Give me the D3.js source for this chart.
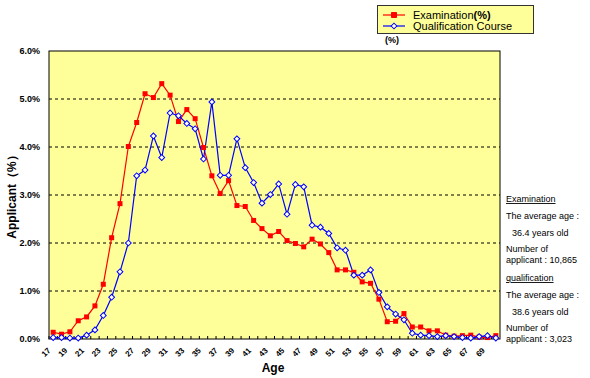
<!DOCTYPE html>
<html>
<head>
<meta charset="utf-8">
<script src="https://cdn.jsdelivr.net/npm/d3@7"></script>
<style>
  body { margin: 0; background: #fff; }
  svg { display: block; font-family: "Liberation Sans", Arial, sans-serif; }
</style>
</head>
<body>
<svg id="chart" width="590" height="378"></svg>
<script>
/********************** DATA *************************/
// ages 17 .. 70, one category each
const ages = d3.range(17, 71);
// share of applicants per age (%)
const examination = [
  0.14, 0.10, 0.15, 0.38, 0.46, 0.69, 1.14, 2.11, 2.82, 4.01,
  4.51, 5.11, 5.03, 5.32, 5.08, 4.53, 4.78, 4.59, 3.99, 3.40,
  3.03, 3.30, 2.78, 2.76, 2.47, 2.30, 2.15, 2.24, 2.05, 1.99,
  1.92, 2.08, 1.98, 1.80, 1.44, 1.44, 1.39, 1.19, 1.16, 0.83,
  0.36, 0.37, 0.53, 0.25, 0.25, 0.17, 0.17, 0.08, 0.06, 0.07,
  0.08, 0.04, 0.03, 0.07
];
const qualification = [
  0.03, 0.03, 0.02, 0.02, 0.08, 0.19, 0.49, 0.87, 1.40, 2.00,
  3.40, 3.52, 4.23, 3.78, 4.71, 4.65, 4.49, 4.38, 3.75, 4.94,
  3.41, 3.41, 4.17, 3.57, 3.26, 2.83, 3.01, 3.23, 2.60, 3.22,
  3.17, 2.37, 2.33, 2.20, 1.90, 1.85, 1.33, 1.33, 1.44, 0.97,
  0.67, 0.52, 0.40, 0.12, 0.08, 0.07, 0.05, 0.07, 0.05, 0.03,
  0.02, 0.05, 0.07, 0.02
];
const yTicks = [0, 1, 2, 3, 4, 5, 6];
const xLabels = ages.filter(a => a % 2 === 1); // every other age is labelled
const seriesNames = ["Examination", "Qualification Course"];
const notes = [
  { text: "Examination", underline: true, dx: 0, y: 202 },
  { text: "The average age :", dx: 0, y: 219 },
  { text: "36.4 years old", dx: 6, y: 236 },
  { text: "Number of", dx: 0, y: 252 },
  { text: "applicant : 10,865", dx: 0, y: 263 },
  { text: "qualification", underline: true, dx: 0, y: 281 },
  { text: "The average age :", dx: 0, y: 298 },
  { text: "38.6 years old", dx: 6, y: 315 },
  { text: "Number of", dx: 0, y: 331 },
  { text: "applicant  : 3,023", dx: 0, y: 342 }
];

/********************** LAYOUT *************************/
const svg = d3.select("#chart");
const margin = { top: 51, right: 90, bottom: 39, left: 49 };
const plotW = 590 - margin.left - margin.right;   // 451
const plotH = 378 - margin.top - margin.bottom;   // 288

const x = d3.scaleBand().domain(ages).range([margin.left, margin.left + plotW]);
const y = d3.scaleLinear().domain([0, 6]).range([margin.top + plotH, margin.top]);
const cx = a => x(a) + x.bandwidth() / 2;

// plot background
svg.append("rect")
  .attr("x", margin.left).attr("y", margin.top)
  .attr("width", plotW).attr("height", plotH)
  .attr("fill", "#ffff99");

// dashed gridlines
svg.append("g").selectAll("line")
  .data(yTicks.filter(d => d > 0 && d < 6))
  .join("line")
  .attr("x1", margin.left).attr("x2", margin.left + plotW)
  .attr("y1", d => y(d)).attr("y2", d => y(d))
  .attr("stroke", "#000").attr("stroke-width", 1)
  .attr("stroke-dasharray", "3,3");

// plot border
svg.append("rect")
  .attr("x", margin.left).attr("y", margin.top)
  .attr("width", plotW).attr("height", plotH)
  .attr("fill", "none").attr("stroke", "#000").attr("stroke-width", 1);

/********************** AXES *************************/
const yAxis = svg.append("g")
  .attr("transform", `translate(${margin.left},0)`)
  .call(d3.axisLeft(y).tickValues(yTicks).tickSize(0).tickPadding(9)
    .tickFormat(d => d.toFixed(1) + "%"));
yAxis.select(".domain").remove();
yAxis.selectAll("text")
  .attr("font-size", 9).attr("font-weight", "bold").attr("fill", "#000");

// category boundary ticks pointing into the plot
svg.append("g").selectAll("line")
  .data(ages)
  .join("line")
  .attr("x1", d => x(d)).attr("x2", d => x(d))
  .attr("y1", margin.top + plotH).attr("y2", margin.top + plotH - 3)
  .attr("stroke", "#000");

const xAxis = svg.append("g")
  .attr("transform", `translate(0,${margin.top + plotH})`)
  .call(d3.axisBottom(x).tickValues(xLabels).tickSize(0));
xAxis.select(".domain").remove();
xAxis.selectAll("text")
  .attr("font-size", 8).attr("font-weight", "bold").attr("fill", "#000")
  .attr("text-anchor", "end")
  .attr("y", 0).attr("dy", "0.35em")
  .attr("transform", "translate(-4,10) rotate(-45)");

// axis titles
svg.append("text")
  .attr("x", 273).attr("y", 372)
  .attr("text-anchor", "middle")
  .attr("font-size", 12).attr("font-weight", "bold")
  .text("Age");

svg.append("text")
  .attr("transform", "translate(16,194) rotate(-90)")
  .attr("text-anchor", "middle")
  .attr("font-size", 12).attr("font-weight", "bold")
  .text("Applicant（%）");

/********************** SERIES *************************/
const line = d3.line().x(d => cx(d.age)).y(d => y(d.v));
const examData = ages.map((a, i) => ({ age: a, v: examination[i] }));
const qualData = ages.map((a, i) => ({ age: a, v: qualification[i] }));

svg.append("path").datum(examData)
  .attr("d", line).attr("fill", "none")
  .attr("stroke", "#ff0000").attr("stroke-width", 1.2);
svg.append("path").datum(qualData)
  .attr("d", line).attr("fill", "none")
  .attr("stroke", "#0000ff").attr("stroke-width", 1.2);

const square = d3.symbol().type(d3.symbolSquare).size(25);
// square turned 45 degrees gives an even diamond like the original
const diamond = d3.symbol().type(d3.symbolSquare).size(17);

svg.append("g").selectAll("path")
  .data(examData)
  .join("path")
  .attr("d", square)
  .attr("transform", d => `translate(${cx(d.age)},${y(d.v)})`)
  .attr("fill", "#ff0000");

svg.append("g").selectAll("path")
  .data(qualData)
  .join("path")
  .attr("d", diamond)
  .attr("transform", d => `translate(${cx(d.age)},${y(d.v)}) rotate(45)`)
  .attr("fill", "#fff").attr("stroke", "#0000ff").attr("stroke-width", 1);

/********************** LEGEND *************************/
const legend = svg.append("g");
legend.append("rect")
  .attr("x", 377.5).attr("y", 5.5).attr("width", 156).attr("height", 28)
  .attr("fill", "#ffff99").attr("stroke", "#333").attr("stroke-width", 1);

const legendRows = [
  { name: seriesNames[0], color: "#ff0000", sym: square, fill: "#ff0000", rot: 0, y: 15 },
  { name: seriesNames[1], color: "#0000ff", sym: diamond, fill: "#fff", rot: 45, y: 26 }
];
legendRows.forEach(r => {
  legend.append("line")
    .attr("x1", 383).attr("x2", 405).attr("y1", r.y).attr("y2", r.y)
    .attr("stroke", r.color).attr("stroke-width", 1.2);
  legend.append("path")
    .attr("d", r.sym)
    .attr("transform", `translate(394,${r.y}) rotate(${r.rot})`)
    .attr("fill", r.fill).attr("stroke", r.color);
  const t = legend.append("text")
    .attr("x", 413).attr("y", r.y).attr("dy", "0.35em")
    .attr("font-size", 11);
  t.append("tspan").text(r.name);
  if (r.color === "#ff0000") t.append("tspan").attr("font-weight", "bold").text("(%)");
});

svg.append("text")
  .attr("x", 385).attr("y", 40).attr("dy", "0.35em")
  .attr("font-size", 9).attr("font-weight", "bold")
  .text("(%)");

/********************** NOTES *************************/
svg.append("g").selectAll("text")
  .data(notes)
  .join("text")
  .attr("x", d => 506 + d.dx).attr("y", d => d.y)
  .attr("font-size", 9)
  .attr("text-decoration", d => d.underline ? "underline" : null)
  .text(d => d.text);
</script>
</body>
</html>
